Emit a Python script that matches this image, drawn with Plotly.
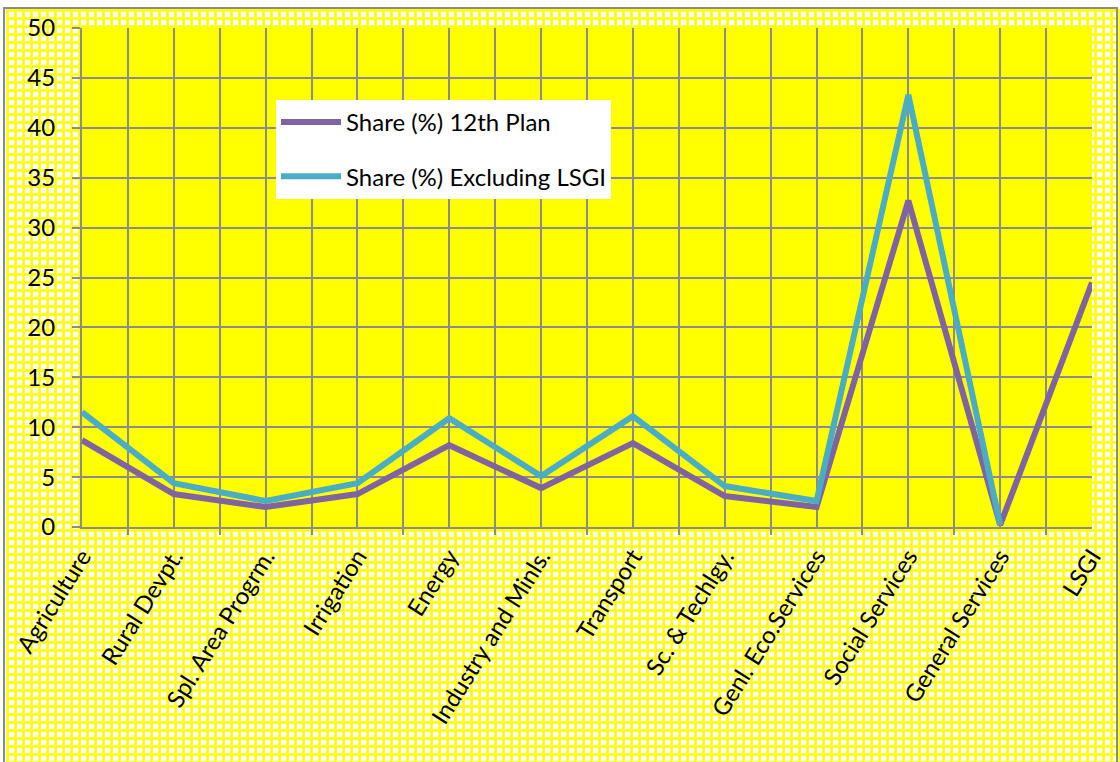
import plotly.graph_objects as go

categories = ["Agriculture", "Rural Devpt.", "Spl. Area Progrm.", "Irrigation", "Energy",
              "Industry and Minls.", "Transport", "Sc. & Techlgy.", "Genl. Eco.Services",
              "Social Services", "General Services", "LSGI"]
share_12th_plan = [8.7, 3.3, 2.0, 3.3, 8.2, 3.9, 8.4, 3.1, 2.0, 32.7, 0.2, 24.5]
share_excl_lsgi = [11.5, 4.4, 2.6, 4.4, 10.9, 5.1, 11.1, 4.1, 2.6, 43.3, 0.2, None]
y_ticks = [0, 5, 10, 15, 20, 25, 30, 35, 40, 45, 50]

W, H = 1120, 762
L, R, T, B = 82, 28, 28, 235
PW, PH = W - L - R, H - T - B

def px(x):
    return (x - L) / PW

def py(y):
    return (H - B - y) / PH

FONT = "Lato, Carlito, Calibri, sans-serif"
PURPLE = "#8064A2"
CYAN = "#4BACC6"
GRID = "#8C8C8C"

xs = list(range(len(categories)))

fig = go.Figure()
fig.add_trace(go.Scatter(x=xs, y=share_12th_plan, mode="lines", name="Share (%) 12th Plan",
                         line=dict(color=PURPLE, width=6), legendgroup="a"))
fig.add_trace(go.Scatter(x=xs, y=share_excl_lsgi, mode="lines", name="Share (%) Excluding LSGI",
                         line=dict(color=CYAN, width=6), legendgroup="b"))

# mesh background outside the plot area
path = []
x = 7.5
while x < W + 8:
    path.append(f"M{px(x):.5f},{py(9):.5f} L{px(x):.5f},{py(H + 2):.5f}")
    x += 8
y = 10.5
while y < H + 8:
    path.append(f"M{px(6):.5f},{py(y):.5f} L{px(W + 2):.5f},{py(y):.5f}")
    y += 8

shapes = [
    dict(type="rect", xref="paper", yref="paper", x0=px(4), x1=px(1117), y0=py(8), y1=py(H + 5),
         fillcolor="white", line=dict(width=0), layer="below"),
    dict(type="path", xref="paper", yref="paper", path=" ".join(path),
         line=dict(color="#FFFF00", width=2.5), layer="below"),
    dict(type="rect", xref="paper", yref="paper", x0=0, x1=1, y0=0, y1=1,
         fillcolor="#FFFF00", line=dict(width=0), layer="below"),
    dict(type="rect", xref="paper", yref="paper", x0=px(4), x1=px(1117), y0=py(8), y1=py(H + 5),
         fillcolor="rgba(0,0,0,0)", line=dict(color="#8C8C8C", width=2), layer="above"),
]

fig.update_layout(
    width=W, height=H,
    margin=dict(l=L, r=R, t=T, b=B, pad=0, autoexpand=False),
    paper_bgcolor="white",
    plot_bgcolor="#FFFF00",
    font=dict(family=FONT, size=24, color="black"),
    shapes=shapes,
    showlegend=True,
    legend=dict(x=px(276), y=py(100), xanchor="left", yanchor="top",
                bgcolor="white", borderwidth=0, tracegroupgap=20,
                font=dict(family=FONT, size=24, color="black"),
                itemwidth=60),
    xaxis=dict(range=[0, len(categories) - 1], tickmode="array", tickvals=xs, ticktext=categories,
               tickangle=-58, showgrid=True, gridcolor=GRID, gridwidth=1.5, automargin=False,
               ticklabeloverflow="allow", ticklabelstandoff=4,
               ticks="inside", ticklen=6, tickcolor=GRID, tickwidth=1.5,
               showline=True, linecolor=GRID, linewidth=2,
               minor=dict(tickvals=[i + 0.5 for i in xs[:-1]], showgrid=True, gridcolor=GRID,
                          gridwidth=1.5, ticks="outside", ticklen=6, tickcolor=GRID, tickwidth=1.5),
               tickfont=dict(family=FONT, size=24), zeroline=False),
    yaxis=dict(range=[0, 50], tickmode="array", tickvals=y_ticks, showgrid=True, automargin=False,
               gridcolor=GRID, gridwidth=1.5, ticks="outside", ticklen=8, tickcolor=GRID,
               tickwidth=1.5, showline=True, linecolor=GRID, linewidth=2, zeroline=False,
               ticklabelstandoff=12, tickfont=dict(family=FONT, size=24)),
)

fig.write_html("out.html", config={"displayModeBar": False},
               post_script="document.body.style.margin='0';document.body.style.overflow='hidden';")
